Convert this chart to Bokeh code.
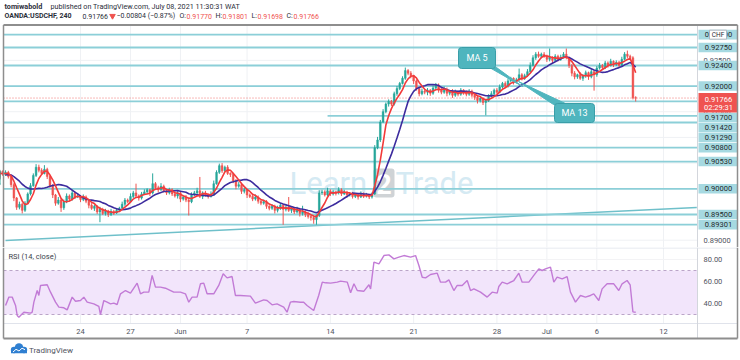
import numpy as np
import pandas as pd
from bokeh.plotting import figure
from bokeh.layouts import column
from bokeh.models import Range1d, ColumnDataSource
from bokeh.core.properties import value
from bokeh.embed import file_html
from bokeh.resources import INLINE

# ====================== DATA ======================
author = "tomiwabold"
published = "published on TradingView.com, July 08, 2021 11:30:31 WAT"
symbol = "OANDA:USDCHF, 240"
change_text = "\u22120.00804 (\u22120.87%)"
countdown = "02:29:31"

# 4h closes in pips (1e-4); the first 12 are the bars left of the visible window
first_open_pips = 9008
warmup_close_pips = [9010, 9018, 9025, 9020, 9030, 9035, 9028, 9032, 9025, 9030, 9034, 9028]
close_pips = [
    9032, 9024, 9008, 8982, 8964, 8970, 8958, 8972, 8990, 9006, 9026, 9042,
    9036, 9030, 9038, 9024, 9006, 8988, 8972, 8978, 8963, 8975, 8986, 8980,
    8992, 8984, 8986, 8979, 8984, 8976, 8968, 8962, 8966, 8955, 8960, 8952,
    8957, 8950, 8956, 8953, 8958, 8962, 8970, 8978, 8975, 8985, 8992, 8986,
    8982, 8990, 8994, 8998, 8992, 9010, 9002, 8998, 9005, 8996, 8992, 8998,
    8990, 8986, 8992, 8980, 8984, 8978, 8975, 8988, 8992, 8996, 8985, 8992,
    8988, 8985, 8990, 9010, 9032, 9045, 9035, 9042, 9030, 9028, 9015, 9005,
    9008, 8995, 8998, 8988, 8985, 8980, 8984, 8976, 8972, 8975, 8966, 8962,
    8966, 8958, 8962, 8968, 8960, 8964, 8958, 8962, 8955, 8960, 8952, 8955,
    8950, 8946, 8944, 8940, 8948, 8992, 8994, 8988, 8996, 8990, 8994, 8992,
    8998, 8990, 8994, 8988, 8990, 8985, 8988, 8984, 8990, 8986, 8988, 8984,
    8990, 9080, 9095, 9130, 9150, 9165, 9170, 9165, 9185, 9195, 9205, 9215,
    9230, 9225, 9220, 9210, 9195, 9185, 9190, 9188, 9192, 9186, 9196, 9202,
    9192, 9188, 9194, 9186, 9190, 9182, 9188, 9184, 9192, 9188, 9184, 9190,
    9182, 9178, 9172, 9176, 9168, 9172, 9180, 9185, 9192, 9188, 9198, 9205,
    9200, 9210, 9215, 9208, 9212, 9222, 9215, 9220, 9228, 9240, 9255, 9262,
    9258, 9262, 9258, 9252, 9256, 9250, 9258, 9252, 9256, 9262, 9255, 9240,
    9225, 9218, 9222, 9215, 9220, 9226, 9218, 9228, 9222, 9235, 9240, 9236,
    9245, 9240, 9248, 9242, 9246, 9240, 9252, 9262, 9258, 9255, 9177.0, 9176.6,
]
# upper / lower wick lengths in pips (warm-up bars first)
hi_wick_pips = [
    3, 4, 2, 5, 3, 2, 4, 3, 2, 5, 3, 2,
    4, 3, 2, 3, 2, 5, 3, 4, 3, 5, 4, 6,
    5, 4, 8, 3, 2, 3, 2, 6, 3, 4, 5, 3,
    6, 3, 4, 2, 5, 3, 2, 4, 3, 2, 5, 3,
    4, 2, 5, 3, 4, 3, 5, 4, 3, 6, 4, 18,
    3, 4, 5, 3, 2, 20, 3, 4, 6, 3, 2, 4,
    3, 5, 4, 2, 3, 4, 3, 5, 4, 6, 27, 3,
    4, 3, 5, 6, 4, 4, 5, 3, 4, 2, 3, 4,
    5, 3, 4, 2, 3, 4, 5, 3, 2, 4, 3, 2,
    4, 3, 5, 4, 2, 3, 20, 4, 3, 5, 2, 12,
    3, 4, 2, 3, 2, 5, 4, 3, 6, 3, 4, 2,
    5, 3, 4, 2, 3, 4, 3, 2, 5, 3, 4, 2,
    3, 5, 6, 4, 5, 3, 4, 3, 4, 5, 3, 4,
    6, 3, 4, 2, 3, 4, 5, 3, 4, 2, 5, 4,
    3, 4, 5, 3, 2, 4, 5, 3, 4, 2, 3, 4,
    3, 2, 4, 3, 2, 3, 4, 5, 3, 4, 5, 3,
    4, 5, 3, 2, 4, 12, 3, 4, 5, 6, 5, 4,
    5, 3, 4, 3, 17, 2, 4, 3, 5, 4, 11, 2,
    3, 4, 2, 5, 3, 4, 2, 5, 3, 4, 5, 3,
    4, 3, 5, 2, 4, 3, 5, 4, 7, 3, 3, 3.1,
]
lo_wick_pips = [
    3, 2, 4, 3, 2, 5, 3, 2, 4, 3, 2, 3,
    3, 4, 5, 6, 5, 4, 6, 3, 2, 3, 2, 3,
    4, 3, 2, 5, 4, 6, 5, 3, 8, 4, 3, 5,
    3, 4, 2, 5, 3, 4, 6, 3, 5, 4, 20, 3,
    4, 5, 3, 4, 2, 3, 2, 4, 3, 2, 3, 4,
    5, 3, 2, 4, 6, 3, 4, 5, 2, 3, 4, 3,
    4, 3, 5, 6, 3, 4, 27, 3, 2, 4, 3, 5,
    3, 4, 2, 3, 2, 3, 4, 2, 3, 5, 4, 6,
    3, 5, 4, 6, 3, 4, 3, 5, 4, 3, 5, 4,
    3, 6, 4, 3, 30, 4, 3, 5, 4, 3, 6, 4,
    5, 4, 6, 8, 10, 3, 4, 3, 2, 4, 3, 5,
    3, 4, 2, 5, 3, 4, 3, 5, 2, 4, 3, 4,
    3, 2, 3, 4, 2, 3, 5, 4, 3, 4, 3, 2,
    3, 4, 5, 6, 4, 5, 3, 4, 6, 5, 3, 4,
    5, 4, 3, 6, 4, 5, 3, 4, 3, 5, 4, 3,
    4, 5, 6, 4, 5, 25, 3, 2, 4, 3, 2, 3,
    4, 3, 2, 5, 3, 2, 4, 3, 2, 3, 2, 4,
    3, 4, 3, 5, 4, 6, 3, 4, 3, 2, 3, 5,
    6, 5, 4, 3, 5, 4, 6, 3, 31, 4, 3, 4,
    3, 4, 2, 5, 3, 4, 3, 2, 4, 3, 3, 6.8,
]

day_ticks = [27, 45, 63, 87, 117, 147, 177, 195, 213, 237]
day_labels = ["24", "27", "Jun", "7", "14", "21", "28", "Jul", "6", "12"]

level_prices = [0.93000, 0.92750, 0.92400, 0.92000, 0.91700, 0.91420,
                0.91290, 0.90800, 0.90530, 0.90000, 0.89500, 0.89301]
level_start_bar = {0.91420: 116}
price_ticks = [0.890, 0.895, 0.900, 0.905, 0.910, 0.915, 0.920, 0.925, 0.930]

trend_bar = [0, 249]
trend_price = [0.88996, 0.89634]

rsi_readings = [
    (0.0, 38.2), (1.2, 45.8), (2.4, 45.8), (3.6, 38.2), (4.2, 29.1), (4.8, 27.6),
    (5.4, 29.1), (6.6, 32.1), (9.0, 31.2), (9.6, 32.1), (10.2, 41.2), (11.4, 51.8),
    (12.0, 47.3), (12.6, 56.4), (15.0, 57.0), (16.2, 50.3), (18.0, 41.2), (19.2, 36.7),
    (21.0, 36.1), (22.2, 34.2), (24.0, 45.8), (25.2, 42.1), (27.0, 42.7), (28.2, 45.8),
    (29.4, 41.2), (31.8, 39.7), (33.6, 37.3), (34.2, 30.0), (35.4, 42.7), (36.6, 41.2),
    (37.8, 39.7), (39.0, 40.3), (40.2, 39.1), (41.4, 48.8), (43.2, 51.8), (45.0, 49.4),
    (47.4, 58.5), (48.6, 48.8), (49.8, 50.3), (51.6, 50.3), (52.8, 65.5), (54.0, 54.9),
    (55.8, 54.9), (57.6, 53.9), (60.6, 50.3), (63.0, 50.3), (64.8, 48.8), (66.0, 41.2),
    (67.2, 45.8), (69.0, 45.8), (70.2, 57.9), (71.4, 58.5), (72.6, 48.8), (75.0, 48.8),
    (76.8, 56.4), (78.4, 67.0), (79.8, 63.3), (81.6, 64.5), (82.8, 47.3), (84.6, 47.3),
    (88.2, 46.7), (90.0, 40.3), (93.0, 43.3), (94.2, 42.7), (96.0, 38.8), (97.8, 39.7),
    (100.2, 36.7), (101.4, 32.1), (102.6, 41.2), (103.8, 41.8), (106.2, 41.2), (107.4, 41.2),
    (108.6, 38.2), (111.0, 33.6), (112.8, 47.3), (114.1, 59.4), (115.3, 58.8), (117.1, 58.5),
    (119.5, 59.4), (120.7, 60.3), (123.1, 59.4), (124.3, 49.7), (125.5, 57.9), (126.7, 51.8),
    (129.1, 51.2), (130.9, 57.0), (131.5, 53.3), (132.7, 77.6), (134.5, 76.1), (136.3, 83.6),
    (138.1, 84.2), (139.9, 80.6), (141.7, 82.1), (143.5, 83.6), (145.9, 82.1), (147.7, 83.6),
    (148.9, 74.5), (150.1, 63.9), (151.3, 63.3), (153.1, 66.4), (155.5, 67.6), (156.7, 59.4),
    (158.5, 59.4), (159.7, 61.5), (161.5, 51.8), (162.7, 56.4), (164.5, 56.4), (166.3, 60.9),
    (167.5, 51.8), (168.7, 53.3), (171.1, 50.3), (173.5, 45.8), (175.3, 50.3), (177.1, 49.4),
    (177.7, 55.5), (178.9, 59.4), (180.7, 57.9), (183.1, 60.9), (184.9, 67.6), (186.1, 59.4),
    (188.5, 59.4), (190.3, 65.5), (192.1, 71.5), (193.3, 70.0), (194.5, 71.5), (196.3, 73.0),
    (197.5, 59.4), (198.7, 63.9), (200.5, 62.4), (202.3, 64.5), (203.5, 50.3), (205.3, 41.2),
    (207.1, 47.3), (208.9, 45.8), (210.7, 47.3), (211.9, 48.8), (213.7, 42.7), (214.9, 53.3),
    (216.7, 57.9), (219.1, 57.9), (220.9, 51.8), (222.1, 57.9), (223.9, 60.9), (225.0, 57.0),
    (226.0, 32.4), (227.0, 32.1),
]
rsi_ticks = [80, 60, 40]
rsi_upper, rsi_lower = 70, 30
ma_fast, ma_slow = 5, 13

# ====================== DERIVED ======================
n_warm = len(warmup_close_pips)
closes = np.array(warmup_close_pips + close_pips, dtype=float) / 1e4
bars = np.arange(len(closes)) - n_warm
opens = np.concatenate([[first_open_pips / 1e4], closes[:-1]])
highs = np.maximum(opens, closes) + np.array(hi_wick_pips, dtype=float) / 1e4
lows = np.minimum(opens, closes) - np.array(lo_wick_pips, dtype=float) / 1e4
ma5 = pd.Series(closes).rolling(ma_fast).mean().to_numpy()
ma13 = pd.Series(closes).rolling(ma_slow).mean().to_numpy()
last = closes[-1]
rsi_t = [t for t, v in rsi_readings]
rsi_v = [v for t, v in rsi_readings]

# ====================== LAYOUT ======================
FONT = value("Roboto")
W = 740
H_HEAD, H_MAIN, H_RSI, H_FOOT = 23, 224, 93, 18
SLOT_PX = 2.776
X0 = -0.74                     # left edge of the price area (x = 3 px)
SEP = X0 + 250                 # price-scale separator (x = 697 px)
XS = X0 - 3 / SLOT_PX
XE = XS + W / SLOT_PX


def rx(px):   # horizontal placement helper (pixels -> bar units)
    return X0 + (px - 3.0) / SLOT_PX


def ry(px):   # vertical placement helper for the price pane (pixels -> price)
    return 0.9275 - (px - 47.0) / 5138.0


def rv(px):   # vertical placement helper for the RSI pane (pixels -> RSI)
    return 80.0 - (px - 259.0) / 1.1


PY0, PY1 = ry(247), ry(23)
RY0, RY1 = rv(340), rv(247)
RSI_BOT = rv(323)
PPU = 5138.0
XR_LAB, XR_END = rx(698), rx(737)

UP, DN = "#26a69a", "#ef5350"
LEVEL = "#8ccfd8"
LABEL_BG = "#a6d9e1"
GRID = "#eff1f4"
BORDER = "#8e8e8e"
SEPC = "#e0e3eb"
DARK = "#2a2e39"
CALLOUT = "#4fb5be"


def make_fig(h, xr, yr):
    return figure(width=W, height=h, x_range=xr, y_range=yr,
                  x_axis_type=None, y_axis_type=None, toolbar_location=None,
                  output_backend="svg", min_border=0, outline_line_color=None,
                  background_fill_color="white", border_fill_color="white")


def txt(f, x, y, s, size="7.5px", color=DARK, align="left", style="normal"):
    f.text(x=x, y=y, text=s, text_font=FONT, text_font_size=size, text_color=color,
           text_align=align, text_baseline="middle", text_font_style=style)


# ---------------- header ----------------
hd = make_fig(H_HEAD, Range1d(0, W), Range1d(H_HEAD, 0))
txt(hd, [4], [5.5], [author], size="7.2px", style="bold")
txt(hd, [50], [5.5], [published], size="7.2px")
R2 = 15.5
txt(hd, [4], [R2], [symbol], size="7px", style="bold")
txt(hd, [82], [R2], [f"{last:.5f}"], size="7px")
hd.scatter(x=[112], y=[R2], marker="inverted_triangle", size=5.5, fill_color=DN, line_color=DN)
txt(hd, [116], [R2], [change_text], size="7px")
o_, h_, l_, c_ = opens[-1], highs[-1], lows[-1], closes[-1]
for lab, xl, val, xv in [("O:", 179, o_, 186), ("H:", 215, h_, 222),
                         ("L:", 251, l_, 257), ("C:", 286, c_, 293)]:
    txt(hd, [xl], [R2], [lab], size="7px")
    txt(hd, [xv], [R2], [f"{val:.5f}"], size="7px", color=DN)

# ---------------- main price pane ----------------
xr = Range1d(XS, XE)
p = make_fig(H_MAIN, xr, Range1d(PY0, PY1))
p.segment(x0=day_ticks, x1=day_ticks, y0=PY0, y1=ry(24), line_color=GRID, line_width=1)
p.segment(x0=X0, x1=SEP, y0=price_ticks, y1=price_ticks, line_color=GRID, line_width=1)

# watermark
txt(p, [rx(289)], [ry(183)], ["Learn"], size="31px", color="#d5eaf3")
p.quad(left=rx(373), right=rx(394), top=ry(168), bottom=ry(197),
       fill_color="#cfd3d6", line_color=None, border_radius=3)
txt(p, [rx(383.5)], [ry(183)], ["2"], size="27px", color="white", align="center", style="bold")
txt(p, [rx(395)], [ry(183)], ["Trade"], size="31px", color="#d5eaf3")

# trend line and horizontal levels
p.line(trend_bar, trend_price, line_color="#6fc0ca", line_width=1.5)
lvl_x0 = [level_start_bar.get(lp, X0) for lp in level_prices]
p.segment(x0=lvl_x0, x1=SEP, y0=level_prices, y1=level_prices, line_color=LEVEL, line_width=1.8)
p.segment(x0=X0, x1=SEP, y0=last, y1=last, line_color=DN, line_dash="1 2", line_width=1, line_alpha=0.8)

# candles
src = ColumnDataSource(dict(
    x=bars, hi=highs, lo=lows,
    top=np.maximum(opens, closes), bot=np.minimum(opens, closes),
    col=np.where(closes >= opens, UP, DN)))
p.segment(x0="x", x1="x", y0="lo", y1="hi", line_color="col", line_width=1, source=src)
p.vbar(x="x", width=0.62, top="top", bottom="bot", fill_color="col", line_color="col",
       line_width=0.5, source=src)

# moving averages
p.line(bars, ma13, line_color="#3d2c9e", line_width=1.6)
p.line(bars, ma5, line_color="#f23a3a", line_width=1.6)

# callouts
p.patch([rx(482), rx(496), rx(522)], [ry(63), ry(67), ry(86)], fill_color=CALLOUT, line_color=CALLOUT)
p.quad(left=rx(458), right=rx(495), top=ry(47), bottom=ry(68), fill_color=CALLOUT,
       line_color="#3a9ea8", border_radius=3)
txt(p, [rx(476.5)], [ry(57.5)], ["MA 5"], size="9px", color="white", align="center")
p.patch([rx(553), rx(567), rx(518)], [ry(104), ry(104), ry(81)], fill_color=CALLOUT, line_color=CALLOUT)
p.quad(left=rx(554), right=rx(594), top=ry(103), bottom=ry(122), fill_color=CALLOUT,
       line_color="#3a9ea8", border_radius=3)
txt(p, [rx(574)], [ry(112.5)], ["MA 13"], size="9px", color="white", align="center")

# price scale column
p.quad(left=SEP, right=XE, top=PY1, bottom=PY0, fill_color="white", line_color=None)
p.segment(x0=SEP, x1=SEP, y0=PY0, y1=ry(24), line_color="#d3d6dc", line_width=1)
txt(p, [rx(703)] * len(price_ticks), price_ticks, [f"{t:.5f}" for t in price_ticks], color="#50535e")

# stacked level labels (pushed below the live price tag when they collide)
red_c = (0.9275 - last) * PPU
occupied = [(red_c - 5.0, red_c + 14.5)]
placed = []
for lp in sorted(level_prices, reverse=True):
    c = (0.9275 - lp) * PPU
    moved = True
    while moved:
        moved = False
        for a, b in occupied:
            if c - 5.0 < b and c + 5.0 > a:
                c = b + 5.0
                moved = True
    occupied.append((c - 5.0, c + 5.0))
    placed.append((lp, 0.9275 - c / PPU))
lab_y = np.array([y for _, y in placed])
p.quad(left=XR_LAB, right=XR_END, top=lab_y + 4.8 / PPU, bottom=lab_y - 4.8 / PPU,
       fill_color=LABEL_BG, line_color=None)
txt(p, [rx(718)] * len(placed), list(lab_y), [f"{lp:.5f}" for lp, _ in placed],
    color="#1f2a2c", align="center")
p.quad(left=XR_LAB, right=XR_END, top=last + 5.0 / PPU, bottom=last - 14.5 / PPU,
       fill_color=DN, line_color=None)
txt(p, [rx(718)], [last - 1.4 / PPU], [f"{last:.5f}"], color="white", align="center")
txt(p, [rx(718)], [last - 9.8 / PPU], [countdown], color="white", align="center")
top_lab = max(lab_y)
p.quad(left=rx(709), right=rx(726), top=top_lab + 4.5 / PPU, bottom=top_lab - 4.5 / PPU,
       fill_color="white", line_color="#b2b5be", line_width=1)
txt(p, [rx(717.5)], [top_lab], ["CHF"], size="6.5px", align="center")

# frame lines
p.segment(x0=X0, x1=XR_END, y0=ry(24.5), y1=ry(24.5), line_color=BORDER, line_width=2)
p.segment(x0=[X0, XR_END], x1=[X0, XR_END], y0=PY0, y1=ry(24.5), line_color=BORDER, line_width=1.5)

# ---------------- RSI pane ----------------
r = make_fig(H_RSI, xr, Range1d(RY0, RY1))
r.segment(x0=day_ticks, x1=day_ticks, y0=RSI_BOT, y1=RY1, line_color=GRID, line_width=1)
r.segment(x0=X0, x1=SEP, y0=rsi_ticks, y1=rsi_ticks, line_color="#f3f3f5", line_width=1)
r.quad(left=X0, right=SEP, bottom=rsi_lower, top=rsi_upper, fill_color="#f2e5fb", line_color=None)
r.segment(x0=X0, x1=SEP, y0=[rsi_upper, rsi_lower], y1=[rsi_upper, rsi_lower],
          line_color="#bba5c8", line_dash="3 3", line_width=1)
r.line(rsi_t, rsi_v, line_color="#c27bd6", line_width=1.4)
txt(r, [rx(8)], [rv(256)], ["RSI (14, close)"], color="#3b3f4a")
txt(r, [rx(703)] * len(rsi_ticks), rsi_ticks, [f"{t:.2f}" for t in rsi_ticks], color="#50535e")
txt(r, day_ticks, [rv(331)] * len(day_ticks), day_labels, color="#50535e", align="center")
r.segment(x0=X0, x1=XR_END, y0=RSI_BOT, y1=RSI_BOT, line_color=SEPC, line_width=1)
r.segment(x0=SEP, x1=SEP, y0=rv(338), y1=RY1, line_color="#d3d6dc", line_width=1)
r.segment(x0=X0, x1=XR_END, y0=rv(247.5), y1=rv(247.5), line_color=SEPC, line_width=1)
r.segment(x0=[X0, XR_END], x1=[X0, XR_END], y0=rv(338), y1=RY1, line_color=BORDER, line_width=1.5)
r.segment(x0=X0, x1=XR_END, y0=rv(338), y1=rv(338), line_color=BORDER, line_width=2)

# ---------------- footer logo ----------------
ft = make_fig(H_FOOT, Range1d(0, W), Range1d(H_FOOT, 0))
ft.circle(x=[13.5, 18.5, 23.5], y=[9.5, 7.0, 9.5], radius=[3.2, 4.3, 3.2],
          fill_color="#2f7fd1", line_color=None)
ft.quad(left=10.5, right=26.5, top=9.5, bottom=12.7, fill_color="#2f7fd1", line_color=None)
ft.line([12.5, 15.5, 18.5, 21.5, 24.5], [11.5, 8.8, 10.5, 7.7, 9.2], line_color="white", line_width=1)
txt(ft, [28.5], [9.5], ["TradingView"], size="8px", color="#50535e")

layout = column(hd, p, r, ft, spacing=0)
open("out.html", "w").write(file_html(layout, INLINE))
